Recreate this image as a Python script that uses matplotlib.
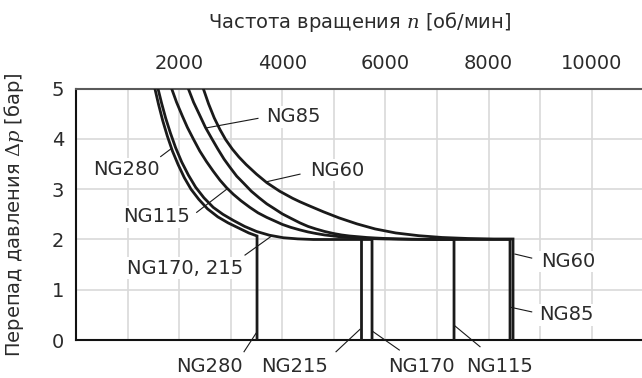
import matplotlib
matplotlib.use("Agg")
import matplotlib.pyplot as plt
import numpy as np

plt.rcParams['font.family'] = ['DejaVu Sans']
plt.rcParams['mathtext.fontset'] = 'dejavuserif'

# curves: speed [rpm] vs pressure drop [bar]
ng280_n = [1530, 1600, 1680, 1770, 1870, 1980, 2100, 2230, 2380, 2550, 2750, 2950,
           3150, 3350, 3510, 3510]
ng280_p = [5.0, 4.69, 4.37, 4.06, 3.76, 3.49, 3.23, 3.0, 2.80, 2.61, 2.45, 2.33,
           2.23, 2.13, 2.07, 0.0]

ng170_n = [1590, 1660, 1740, 1830, 1930, 2050, 2180, 2320, 2480, 2660, 2850, 3050,
           3270, 3500, 3750, 4020, 4300, 4600, 5740, 5740]
ng170_p = [5.0, 4.71, 4.41, 4.12, 3.83, 3.54, 3.28, 3.04, 2.83, 2.64, 2.50, 2.38,
           2.26, 2.16, 2.085, 2.035, 2.012, 2.0, 2.0, 0.0]

ng215_n = [5527, 5527]
ng215_p = [2.0, 0.0]

ng115_n = [1855, 1950, 2065, 2160, 2275, 2400, 2530, 2660, 2792, 2920, 3050, 3200,
           3370, 3530, 3698, 3850, 4000, 4170, 4343, 4500, 4650, 4820, 4990, 5150,
           5300, 5470, 5637, 5800, 6000, 6500, 7000, 7330, 7330]
ng115_p = [5.0, 4.73, 4.45, 4.23, 4.0, 3.76, 3.55, 3.36, 3.18, 3.03, 2.90, 2.77,
           2.64, 2.53, 2.44, 2.37, 2.30, 2.24, 2.19, 2.15, 2.12, 2.09, 2.07, 2.05,
           2.04, 2.03, 2.02, 2.015, 2.01, 2.003, 2.0, 2.0, 0.0]

ng85_n = [2178, 2280, 2400, 2510, 2631, 2750, 2870, 2990, 3116, 3250, 3400, 3550,
          3698, 3850, 4000, 4170, 4343, 4500, 4650, 4820, 4990, 5150, 5300, 5470,
          5637, 5800, 6000, 6250, 6500, 7000, 8416, 8416]
ng85_p = [5.0, 4.73, 4.47, 4.23, 4.01, 3.80, 3.60, 3.43, 3.26, 3.12, 2.96, 2.83,
          2.71, 2.61, 2.51, 2.42, 2.33, 2.26, 2.21, 2.16, 2.12, 2.09, 2.07, 2.055,
          2.04, 2.03, 2.02, 2.012, 2.006, 2.0, 2.0, 0.0]

ng60_n = [2469, 2570, 2680, 2790, 2900, 3030, 3160, 3300, 3500, 3700, 3950, 4200,
          4343, 4500, 4800, 5100, 5450, 5800, 6200, 6650, 7100, 7600, 8100, 8474, 8474]
ng60_p = [5.0, 4.70, 4.42, 4.19, 3.99, 3.80, 3.64, 3.49, 3.30, 3.13, 2.96, 2.82,
          2.75, 2.68, 2.55, 2.43, 2.31, 2.21, 2.13, 2.075, 2.04, 2.02, 2.01, 2.01, 0.0]

x_grid = list(range(0, 11001, 1000))
x_labeled = [2000, 4000, 6000, 8000, 10000]
y_ticks = [0, 1, 2, 3, 4, 5]

txt = '#2b2b2b'
fs = 14

fig = plt.figure(figsize=(6.42, 3.78), dpi=100)
ax = fig.add_axes([0.1184, 0.1005, 0.8836, 0.6648])

for n, p in [(ng280_n, ng280_p), (ng170_n, ng170_p), (ng215_n, ng215_p),
             (ng115_n, ng115_p), (ng85_n, ng85_p), (ng60_n, ng60_p)]:
    ax.plot(n, p, color='#1a1a1a', lw=2.0, solid_joinstyle='miter', zorder=4)

ax.set_xlim(0, 11000)
ax.set_ylim(0, 5)
ax.set_xticks(x_grid)
ax.set_xticklabels([str(v) if v in x_labeled else '' for v in x_grid])
ax.set_yticks(y_ticks)
ax.xaxis.tick_top()
ax.tick_params(axis='x', length=0, pad=11.5, labelsize=fs, labelcolor=txt)
ax.tick_params(axis='y', length=0, pad=8.5, labelsize=fs, labelcolor=txt)
ax.grid(True, color='#d9d9d9', lw=1.2, zorder=0)
ax.set_axisbelow(True)

for s in ['left', 'bottom']:
    ax.spines[s].set_color('#111111')
    ax.spines[s].set_linewidth(1.5)
ax.spines['top'].set_color('#5a5a5a')
ax.spines['top'].set_linewidth(1.5)
ax.spines['right'].set_visible(False)

ax.xaxis.set_label_position('top')
ax.set_xlabel('Частота вращения $n$ [об/мин]', fontsize=fs, color=txt)
ax.xaxis.set_label_coords(0.5, 1.24)
ax.set_ylabel(r'Перепад давления $\mathit{\Delta p}$ [бар]', fontsize=fs, color=txt)
ax.yaxis.set_label_coords(-0.089, 0.5)

box = dict(facecolor='white', edgecolor='none', pad=1.0)
lead = dict(color='#1a1a1a', lw=0.8, clip_on=False, zorder=3)

labels = [
    ('NG85', 3685, 4.44, 'left', [2527, 3528], [4.22, 4.41]),
    ('NG60', 4537, 3.38, 'left', [3700, 4343], [3.15, 3.30]),
    ('NG280', 1629, 3.40, 'right', [1642, 1836], [3.65, 3.80]),
    ('NG115', 2211, 2.45, 'right', [2340, 2934], [2.54, 3.01]),
    ('NG170, 215', 3238, 1.43, 'right', [3277, 3794], [1.69, 2.07]),
    ('NG60', 9010, 1.56, 'left', [8512, 8836], [1.71, 1.63]),
    ('NG85', 8984, 0.50, 'left', [8435, 8836], [0.65, 0.56]),
    ('NG280', 2579, -0.52, 'center', [3258, 3490], [-0.233, 0.133]),
    ('NG215', 4247, -0.52, 'center', [5042, 5507], [-0.233, 0.213]),
    ('NG170', 6690, -0.52, 'center', [5734, 6269], [0.185, -0.199]),
    ('NG115', 8221, -0.52, 'center', [7349, 7834], [0.279, -0.133]),
]
for t, x, y, ha, lx, ly in labels:
    ax.text(x, y, t, ha=ha, va='center', fontsize=fs, color=txt,
            bbox=box, zorder=2, clip_on=False)
    ax.plot(lx, ly, **lead)

fig.savefig('out.png', dpi=100)
